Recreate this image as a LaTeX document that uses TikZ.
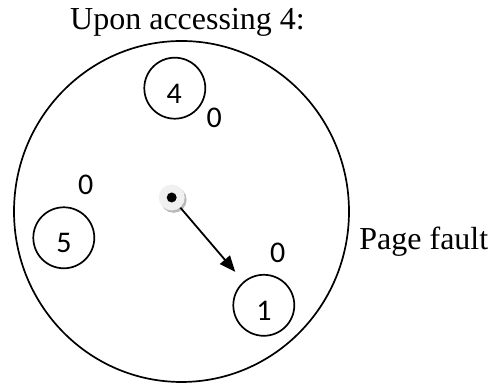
\documentclass[tikz,border=0pt]{standalone}
\usepackage{fontspec}
\setmainfont{Liberation Serif}
\newfontfamily\digitfont{Carlito}
\usetikzlibrary{arrows.meta}

\begin{document}
\begin{tikzpicture}[x=0.5pt, y=-0.5pt,
    page/.style={draw, circle, line width=0.85pt, minimum size=30.5pt, inner sep=0pt},
    num/.style={font=\digitfont\fontsize{15}{16}\selectfont, inner sep=0pt},
    caption/.style={font=\fontsize{16}{18}\selectfont, inner sep=0pt}]
    \useasboundingbox (0,0) rectangle (494,383);

    % Titulo
    \node[caption, anchor=base] (title) at (187.5,30) {Upon accessing 4:};

    % Relogio (circulo externo)
    \coordinate (clock) at (181.5,211.5);
    \draw[line width=0.85pt] (clock) ellipse [x radius=167.5, y radius=170.5];

    % Paginas no relogio
    \node[page] (p4) at (174.8,88.2) {};
    \node[num] (n4) at (174.3,94) {4};
    \node[num] (r4) at (214.3,118.3) {0};

    \node[page] (p5) at (63.8,237.8) {};
    \node[num] (n5) at (64,243.3) {5};
    \node[num] (r5) at (85.7,185) {0};

    \node[page] (p1) at (263.8,305.3) {};
    \node[num] (n1) at (264,310.7) {1};
    \node[num] (r1) at (277.7,253.3) {0};

    % Ponteiro (centro)
    \fill[gray!55] (173.6,199.8) circle (13);
    \node[circle, fill=gray!12, minimum size=13pt, inner sep=0pt] (hub) at (171.7,197.5) {};
    \fill[black] (hub.center) circle (5);

    % Seta do ponteiro
    \draw[-{Triangle[length=8pt, width=6.5pt]}, line width=0.9pt, shorten >=6.3pt] (hub) -- (p1);

    % Texto lateral
    \node[caption, anchor=base west] (fault) at (359,250) {Page fault};
\end{tikzpicture}
\end{document}
